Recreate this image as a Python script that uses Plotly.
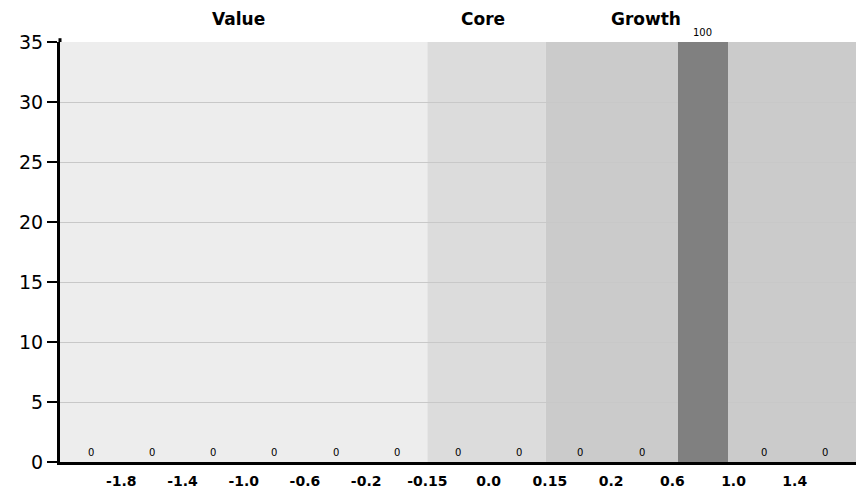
import plotly.graph_objects as go

# datos
etiquetas = ["-1.8", "-1.4", "-1.0", "-0.6", "-0.2", "-0.15", "0.0", "0.15", "0.2", "0.6", "1.0", "1.4"]
valores = [0, 0, 0, 0, 0, 0, 0, 0, 0, 0, 100, 0, 0]

# zonas: nombre, inicio, fin (en unidades de categoria), posicion del titulo, color
zonas_nombre = ["Value", "Core", "Growth"]
zonas_inicio = [-0.5, 5.5, 7.43]
zonas_fin = [5.5, 7.43, 12.5]
zonas_titulo_x = [2.41, 6.41, 9.07]
zonas_color = ["#ededed", "#dcdcdc", "#cbcbcb"]

y_max = 35
fuente = "DejaVu Sans"

x = list(range(len(valores)))

fig = go.Figure()
fig.add_trace(go.Bar(x=x, y=valores, width=0.81, marker=dict(color="#808080", line=dict(width=0)),
                     showlegend=False, hoverinfo="skip"))

# fondos por zona
for i in range(len(zonas_nombre)):
    fig.add_shape(type="rect", xref="x", yref="y", x0=zonas_inicio[i], x1=zonas_fin[i], y0=0, y1=y_max,
                  fillcolor=zonas_color[i], line=dict(width=0), layer="below")
    fig.add_annotation(x=zonas_titulo_x[i], y=1, xref="x", yref="paper", yanchor="bottom", yshift=11,
                       text="<b>" + zonas_nombre[i] + "</b>", showarrow=False,
                       font=dict(family=fuente, size=17, color="black"))

# etiquetas de valor
for i, v in enumerate(valores):
    fig.add_annotation(x=i, y=min(v, y_max), xref="x", yref="y", text=str(v), showarrow=False,
                       yanchor="middle", yshift=10, font=dict(family=fuente, size=10, color="black"))

# eje y un poco mas largo arriba
fig.add_shape(type="line", xref="paper", yref="paper", x0=0, x1=0, y0=1, y1=1.009,
              line=dict(color="black", width=3))

fig.update_xaxes(range=[-0.5, len(valores) - 0.5], tickvals=[i + 0.5 for i in range(len(etiquetas))],
                 ticktext=["<b>" + t + "</b>" for t in etiquetas], showgrid=False, zeroline=False,
                 showline=True, linecolor="black", linewidth=3, ticks="", ticklabelstandoff=4,
                 tickfont=dict(family=fuente, size=14, color="black"))
fig.update_yaxes(range=[0, y_max], dtick=5, showgrid=True, gridcolor="#c8c8c8", gridwidth=1,
                 zeroline=False, showline=True, linecolor="black", linewidth=3,
                 ticks="outside", ticklen=10, tickwidth=2, tickcolor="black",
                 tickfont=dict(family=fuente, size=19, color="black"))

fig.update_layout(width=856, height=495, margin=dict(l=60, r=0, t=42, b=33),
                  plot_bgcolor="white", paper_bgcolor="white", bargap=0)

# sin margen en la pagina ni barras de scroll
fig.write_html("out.html", config={"displayModeBar": False},
               post_script="document.body.style.margin='0';"
                           "document.documentElement.style.overflow='hidden';")
